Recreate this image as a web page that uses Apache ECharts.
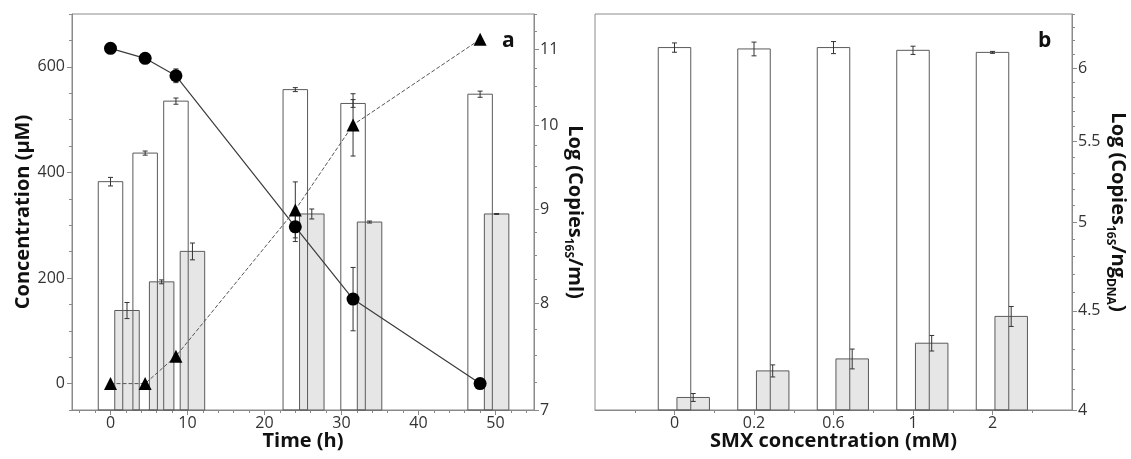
<!DOCTYPE html>
<html>
<head>
<meta charset="utf-8">
<title>SMX degradation</title>
<script src="https://cdn.jsdelivr.net/npm/echarts@6/dist/echarts.min.js"></script>
<style>
  html, body { margin: 0; padding: 0; background: #fff; }
  #chart { width: 1131px; height: 459px; }
</style>
</head>
<body>
<div id="chart"></div>
<script>
// panel a: time course
var timeH = [0, 4.5, 8.5, 24, 31.5, 48];
var smxLeft = [635, 616, 583, 297, 160, 0];        // circles (uM)
var smxLeftErr = [0, 0, 13, 28, 60, 0];
var product = [0, 0, 52, 329, 490, 652];           // triangles (uM)
var productErr = [0, 0, 0, 53, 59, 0];
var copiesWhiteA = [9.32, 9.66, 10.31, 10.46, 10.28, 10.40];
var copiesWhiteAErr = [0.05, 0.025, 0.04, 0.026, 0.05, 0.04];
var copiesGreyA = [7.93, 8.22, 8.54, 8.95, 8.86, 8.95];
var copiesGreyAErr = [0.08, 0.02, 0.09, 0.056, 0.011, 0.005];

// panel b: SMX concentration
var smxCats = ['0', '0.2', '0.6', '1', '2'];
var copiesWhiteB = [6.15, 6.14, 6.15, 6.13, 6.115];
var copiesWhiteBErr = [0.034, 0.05, 0.044, 0.03, 0.007];
var copiesGreyB = [4.06, 4.19, 4.25, 4.33, 4.47];
var copiesGreyBErr = [0.019, 0.03, 0.05, 0.04, 0.053];

// tick labels
var concTicks = [0, 200, 400, 600];
var timeTicks = [0, 10, 20, 30, 40, 50];
var logTicksA = [7, 8, 9, 10, 11];
var logTicksB = [4, 4.5, 5, 5.5, 6];

var FONT = '"Open Sans", "DejaVu Sans", sans-serif';
var AXIS_GRAY = '#8a8a8a';
var EDGE = '#5a5a5a';

// unlabelled minor tick positions
function steps(from, to, step, skip) {
  var out = [];
  for (var v = from; v <= to + 1e-9; v += step) {
    var r = Math.round(v * 1000) / 1000;
    if (!skip(r)) out.push(r);
  }
  return out;
}

function rows(xs, ys, es) {
  return xs.map(function (x, i) { return [x, ys[i], es[i]]; });
}

// bar with its error bar, drawn through the axes
function barItem(width, shift, fill) {
  return function (params, api) {
    var x = api.value(0), v = api.value(1), e = api.value(2);
    var top = api.coord([x, v]);
    var cx = top[0] + shift;
    var bottom = params.coordSys.y + params.coordSys.height;
    var hi = api.coord([x, v + e])[1];
    var lo = api.coord([x, v - e])[1];
    var cap = 2.5;
    return {
      type: 'group',
      children: [
        { type: 'rect', shape: { x: cx - width / 2, y: top[1], width: width, height: bottom - top[1] },
          style: { fill: fill, stroke: EDGE, lineWidth: 1 } },
        { type: 'line', shape: { x1: cx, y1: hi, x2: cx, y2: lo }, style: { stroke: '#333', lineWidth: 1 } },
        { type: 'line', shape: { x1: cx - cap, y1: hi, x2: cx + cap, y2: hi }, style: { stroke: '#333', lineWidth: 1 } },
        { type: 'line', shape: { x1: cx - cap, y1: lo, x2: cx + cap, y2: lo }, style: { stroke: '#333', lineWidth: 1 } }
      ]
    };
  };
}

function errItem(params, api) {
  var x = api.value(0), v = api.value(1), e = api.value(2);
  if (!e) return null;
  var hi = api.coord([x, v + e]);
  var lo = api.coord([x, v - e]);
  var cap = 2.5;
  return {
    type: 'group',
    children: [
      { type: 'line', shape: { x1: hi[0], y1: hi[1], x2: lo[0], y2: lo[1] }, style: { stroke: '#333', lineWidth: 1 } },
      { type: 'line', shape: { x1: hi[0] - cap, y1: hi[1], x2: hi[0] + cap, y2: hi[1] }, style: { stroke: '#333', lineWidth: 1 } },
      { type: 'line', shape: { x1: lo[0] - cap, y1: lo[1], x2: lo[0] + cap, y2: lo[1] }, style: { stroke: '#333', lineWidth: 1 } }
    ]
  };
}

var labelStyle = { fontFamily: FONT, fontSize: 16, color: '#333' };
var nameStyle = { fontFamily: FONT, fontSize: 20, fontWeight: 'bold', color: '#111' };
var richName = {
  a: { fontFamily: FONT, fontSize: 20, fontWeight: 'bold', color: '#111', lineHeight: 26 },
  s: { fontFamily: FONT, fontSize: 12, fontWeight: 'bold', color: '#111', lineHeight: 26, verticalAlign: 'bottom', padding: [8, 0, 0, 0] }
};

function minorAxis(base, ticks) {
  return Object.assign({}, base, {
    name: '',
    axisLine: { show: false, onZero: false },
    axisLabel: { show: false },
    axisTick: { show: true, length: 3, customValues: ticks, lineStyle: { color: AXIS_GRAY } },
    splitLine: { show: false }
  });
}

var xA = { type: 'value', gridIndex: 0, position: 'bottom', min: -5, max: 55 };
var yConc = { type: 'value', gridIndex: 0, position: 'left', min: -50, max: 700 };
var yLogA = { type: 'log', logBase: 10, gridIndex: 0, position: 'right', min: 7, max: 11.5 };
var xB = { type: 'value', gridIndex: 1, position: 'bottom', min: -1, max: 5 };
var yLogB = { type: 'log', logBase: 10, gridIndex: 1, position: 'right', min: 4, max: 6.4 };

var chart = echarts.init(document.getElementById('chart'));
chart.setOption({
  animation: false,
  backgroundColor: '#fff',
  grid: [
    { left: 72, top: 14, width: 462, height: 396, show: true, borderColor: AXIS_GRAY, borderWidth: 1 },
    { left: 595, top: 14, width: 477, height: 396, show: true, borderColor: AXIS_GRAY, borderWidth: 1 }
  ],
  xAxis: [
    Object.assign({}, xA, {
      name: 'Time (h)', nameLocation: 'middle', nameGap: 21, nameMoveOverlap: false, nameTextStyle: nameStyle,
      axisLine: { onZero: false, lineStyle: { color: AXIS_GRAY } },
      axisTick: { length: 5, customValues: timeTicks, lineStyle: { color: AXIS_GRAY } },
      axisLabel: Object.assign({ customValues: timeTicks, margin: 5 }, labelStyle),
      splitLine: { show: false }
    }),
    minorAxis(xA, steps(-4, 54, 2, function (v) { return v % 10 === 0; })),
    Object.assign({}, xB, {
      name: 'SMX concentration (mM)', nameLocation: 'middle', nameGap: 21, nameMoveOverlap: false, nameTextStyle: nameStyle,
      axisLine: { onZero: false, lineStyle: { color: AXIS_GRAY } },
      axisTick: { length: 5, customValues: [0, 1, 2, 3, 4], lineStyle: { color: AXIS_GRAY } },
      axisLabel: Object.assign({ customValues: [0, 1, 2, 3, 4], margin: 5,
        formatter: function (v) { return smxCats[Math.round(v)]; } }, labelStyle),
      splitLine: { show: false }
    }),
    minorAxis(xB, [-0.5, 0.5, 1.5, 2.5, 3.5, 4.5])
  ],
  yAxis: [
    Object.assign({}, yConc, {
      name: 'Concentration (μM)', nameLocation: 'middle', nameRotate: 90, nameGap: 37, nameTextStyle: nameStyle,
      axisLine: { show: true, onZero: false, lineStyle: { color: AXIS_GRAY } },
      axisTick: { show: true, length: 5, customValues: concTicks, lineStyle: { color: AXIS_GRAY } },
      axisLabel: Object.assign({ customValues: concTicks, margin: 7 }, labelStyle),
      splitLine: { show: false }
    }),
    minorAxis(yConc, steps(-50, 700, 50, function (v) { return v % 200 === 0; })),
    Object.assign({}, yLogA, {
      name: '{a|Log (Copies}{s|16S}{a|/ml)}', nameLocation: 'middle', nameRotate: -90, nameGap: 27,
      nameTextStyle: { rich: richName },
      axisLine: { show: true, onZero: false, lineStyle: { color: AXIS_GRAY } },
      axisTick: { show: true, length: 5, customValues: logTicksA, lineStyle: { color: AXIS_GRAY } },
      axisLabel: Object.assign({ customValues: logTicksA, margin: 6,
        formatter: function (v) { return String(Math.round(v * 10) / 10); } }, labelStyle),
      splitLine: { show: false }
    }),
    minorAxis(yLogA, steps(7, 11.5, 0.25, function (v) { return v % 1 === 0; })),
    Object.assign({}, yLogB, {
      name: '{a|Log (Copies}{s|16S}{a|/ng}{s|DNA}{a|)}', nameLocation: 'middle', nameRotate: -90, nameGap: 25,
      nameTextStyle: { rich: richName },
      axisLine: { show: true, onZero: false, lineStyle: { color: AXIS_GRAY } },
      axisTick: { show: true, length: 5, customValues: logTicksB, lineStyle: { color: AXIS_GRAY } },
      axisLabel: Object.assign({ customValues: logTicksB, margin: 6,
        formatter: function (v) { return String(Math.round(v * 10) / 10); } }, labelStyle),
      splitLine: { show: false }
    }),
    minorAxis(yLogB, steps(4, 6.4, 0.1, function (v) { return Math.abs(v * 2 - Math.round(v * 2)) < 1e-6; }))
  ],
  series: [
    // panel a bars (right log axis)
    { type: 'custom', xAxisIndex: 0, yAxisIndex: 2, z: 2,
      renderItem: barItem(24.5, 16.5, '#e6e6e6'),
      data: rows(timeH, copiesGreyA, copiesGreyAErr) },
    { type: 'custom', xAxisIndex: 0, yAxisIndex: 2, z: 3,
      renderItem: barItem(24.5, 0, 'rgba(0,0,0,0)'),
      data: rows(timeH, copiesWhiteA, copiesWhiteAErr) },
    // panel a points (left concentration axis)
    { type: 'custom', xAxisIndex: 0, yAxisIndex: 0, z: 4, renderItem: errItem,
      data: rows(timeH, smxLeft, smxLeftErr) },
    { type: 'custom', xAxisIndex: 0, yAxisIndex: 0, z: 4, renderItem: errItem,
      data: rows(timeH, product, productErr) },
    { type: 'line', xAxisIndex: 0, yAxisIndex: 0, z: 5,
      data: timeH.map(function (t, i) { return [t, smxLeft[i]]; }),
      symbol: 'circle', symbolSize: 13,
      itemStyle: { color: '#000' },
      lineStyle: { color: '#3c3c3c', width: 1.2 } },
    { type: 'line', xAxisIndex: 0, yAxisIndex: 0, z: 5,
      data: timeH.map(function (t, i) { return [t, product[i]]; }),
      symbol: 'triangle', symbolSize: 13,
      itemStyle: { color: '#000' },
      lineStyle: { color: '#555', width: 1, type: [4, 2] } },
    // panel b bars
    { type: 'custom', xAxisIndex: 2, yAxisIndex: 4, z: 2,
      renderItem: barItem(32.5, 18.7, '#e6e6e6'),
      data: rows([0, 1, 2, 3, 4], copiesGreyB, copiesGreyBErr) },
    { type: 'custom', xAxisIndex: 2, yAxisIndex: 4, z: 3,
      renderItem: barItem(32.5, 0, 'rgba(0,0,0,0)'),
      data: rows([0, 1, 2, 3, 4], copiesWhiteB, copiesWhiteBErr) }
  ],
  graphic: [
    { type: 'text', left: 502, top: 31, style: { text: 'a', fontFamily: FONT, fontSize: 21, fontWeight: 'bold', fill: '#111' } },
    { type: 'text', left: 1038, top: 31, style: { text: 'b', fontFamily: FONT, fontSize: 21, fontWeight: 'bold', fill: '#111' } }
  ]
});
</script>
</body>
</html>
